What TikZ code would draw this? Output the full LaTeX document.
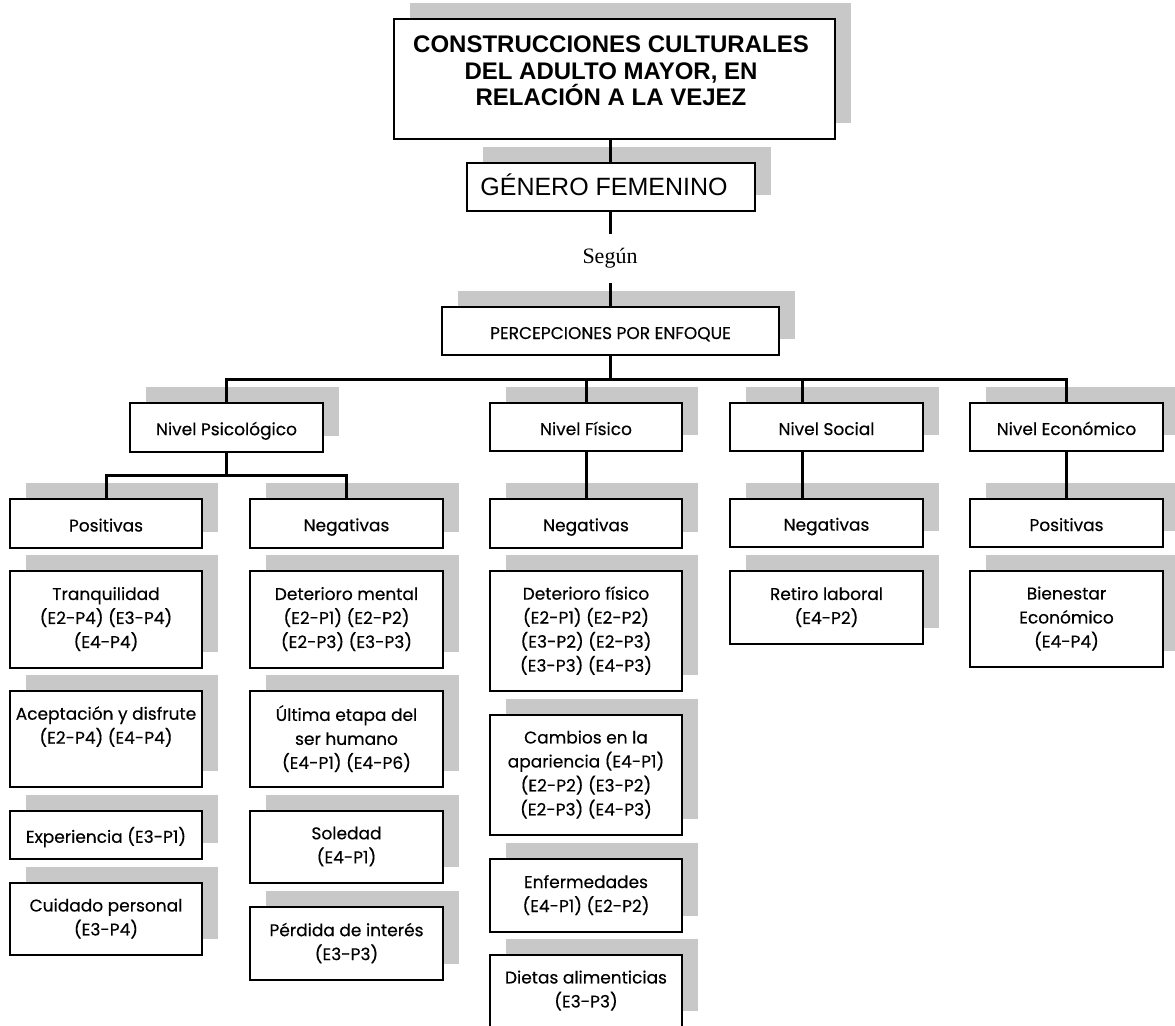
\documentclass[tikz,border=0pt]{standalone}
\usepackage{fontspec}
\setmainfont{Poppins}[FakeBold=0.35]
\newfontfamily\arialf{Liberation Sans}
\newfontfamily\timesf{Liberation Serif}
\usetikzlibrary{calc}
\pgfdeclarelayer{bg}
\pgfsetlayers{bg,main}
\definecolor{shadegray}{RGB}{200,200,200}
\tikzset{
  bx/.style={draw=black, line width=1.15pt, fill=white, inner sep=0pt, align=center,
    font=\fontsize{8.5}{12}\selectfont,
    execute at begin node=\rule{0pt}{10pt},
    execute at end node=\rule[-2pt]{0pt}{0pt}},
  shd/.style={fill=shadegray},
  conn/.style={line width=1.5pt},
  titletext/.style={inner sep=0pt, align=center, font=\arialf\bfseries\fontsize{12}{13.3}\selectfont},
  segtext/.style={inner sep=0pt, minimum height=24.5pt, font=\timesf\fontsize{11}{13}\selectfont}
}
\newcommand\mybox[6]{%
  \begin{pgfonlayer}{bg}\fill[shd] (#2+16,#3-16) rectangle (#4+16,#5-16);\end{pgfonlayer}
  \node[bx, minimum width={0.5pt*(#4-#2)}, minimum height={0.5pt*(#5-#3)}] (#1) at ({(#2+#4)/2},{(#3+#5)/2}) {#6};}
\begin{document}
\begin{tikzpicture}[x=0.5pt,y=-0.5pt]
\useasboundingbox (0,0) rectangle (1175,1025);
\clip (0,0) rectangle (1175,1025);
% top
\mybox{title}{394}{19}{835}{139}{}
\node[titletext] (titlet) at (611,71) {CONSTRUCCIONES CULTURALES\\DEL ADULTO MAYOR, EN\\RELACIÓN A LA VEJEZ};
\mybox{genero}{467}{163}{755}{211}{\arialf\fontsize{12.5}{14}\selectfont GÉNERO FEMENINO\hspace*{7pt}}
\node[segtext] (segun) at (610,258.5) {Según};
\mybox{perc}{442}{307}{779}{355}{PERCEPCIONES POR ENFOQUE}
% levels
\mybox{psi}{130}{403}{323}{452}{Nivel Psicológico}
\mybox{fis}{490}{403}{682}{451}{Nivel Físico}
\mybox{soc}{730}{403}{923}{451}{Nivel Social}
\mybox{eco}{970}{403}{1163}{451}{Nivel Económico}
% valence
\mybox{posp}{10}{499}{202}{548}{Positivas}
\mybox{negp}{250}{499}{443}{548}{Negativas}
\mybox{negf}{490}{499}{682}{548}{Negativas}
\mybox{negs}{730}{499}{923}{547}{Negativas}
\mybox{pose}{970}{499}{1163}{547}{Positivas}
% psych positive
\mybox{tranq}{10}{571}{202}{668}{Tranquilidad\\(E2-P4) (E3-P4)\\(E4-P4)}
\mybox{acep}{10}{691}{202}{787}{Aceptación y disfrute\\(E2-P4) (E4-P4)\\}
\mybox{exper}{10}{811}{202}{859}{Experiencia (E3-P1)}
\mybox{cuid}{10}{883}{202}{955}{Cuidado personal\\(E3-P4)}
% psych negative
\mybox{detm}{250}{571}{443}{668}{Deterioro mental\\(E2-P1) (E2-P2)\\(E2-P3) (E3-P3)}
\mybox{ulti}{250}{691}{443}{787}{Última etapa del\\ser humano\\(E4-P1) (E4-P6)}
\mybox{sole}{250}{811}{443}{883}{Soledad\\(E4-P1)}
\mybox{perd}{250}{907}{443}{980}{Pérdida de interés\\(E3-P3)}
% physical
\mybox{detf}{490}{571}{682}{691}{Deterioro físico\\(E2-P1) (E2-P2)\\(E3-P2) (E2-P3)\\(E3-P3) (E4-P3)}
\mybox{camb}{490}{715}{682}{835}{Cambios en la\\apariencia (E4-P1)\\(E2-P2) (E3-P2)\\(E2-P3) (E4-P3)}
\mybox{enf}{490}{859}{682}{932}{Enfermedades\\(E4-P1) (E2-P2)}
\mybox{diet}{490}{955}{682}{1027}{Dietas alimenticias\\(E3-P3)}
% social / economic
\mybox{ret}{730}{571}{923}{644}{Retiro laboral\\(E4-P2)}
\mybox{bien}{970}{571}{1163}{667}{Bienestar\\Económico\\(E4-P4)}
% connectors
\coordinate (bus) at (610,379);
\coordinate (psibus) at (226.5,475);
\draw[conn] (title.south -| segun.north) -- (segun.north |- genero.north);
\draw[conn] (genero.south -| segun.north) -- (segun.north);
\draw[conn] (segun.south) -- (segun.south |- perc.north);
\draw[conn] (perc.south -| bus) -- (bus);
\draw[conn] (psi.north) |- (bus) -| (eco.north);
\draw[conn] (fis.north) -- (fis.north |- bus);
\draw[conn] ($(soc.north)+(-24.5,0)$) -- ($(soc.north |- bus)+(-24.5,0)$);
\draw[conn] (psi.south) -- (psibus);
\draw[conn] (posp.north) |- (psibus) -| (negp.north);
\draw[conn] (fis.south) -- (negf.north);
\draw[conn] ($(soc.south)+(-24.5,0)$) -- ($(negs.north)+(-24.5,0)$);
\draw[conn] (eco.south) -- (pose.north);
\end{tikzpicture}
\end{document}
